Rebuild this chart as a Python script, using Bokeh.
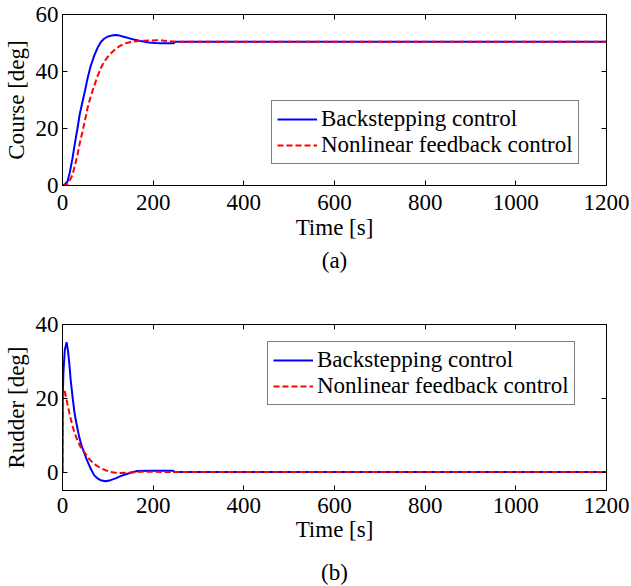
from bokeh.plotting import figure
from bokeh.models import Range1d, LinearAxis, FixedTicker, Legend, LegendItem, Title
from bokeh.layouts import column
from bokeh.embed import file_html
from bokeh.resources import INLINE

FONT = "Liberation Serif"
FS = "23px"

# ---- data ----
x_ticks = [0, 200, 400, 600, 800, 1000, 1200]
course_ticks = [0, 20, 40, 60]
rudder_ticks = [0, 20, 40]

t_course_bs = [0, 5, 11, 16, 22, 27, 33, 38, 44, 50, 55, 62, 70, 77, 84, 91, 99, 108, 117, 126, 135, 146,
               157, 172, 190, 205, 216, 245, 249, 300, 1200]
course_bs = [0, 0.4, 1.4, 4.5, 9.5, 14.5, 20, 25, 29.3, 33.5, 37.4, 41.8, 45.6, 48.2, 50.2, 51.4, 52.2, 52.6,
             52.8, 52.6, 52.2, 51.7, 51.2, 50.7, 50.2, 50.0, 49.9, 49.9, 50.4, 50.4, 50.4]

t_course_nf = [0, 5, 11, 16, 22, 27, 33, 38, 44, 50, 55, 62, 70, 77, 84, 91, 99, 108, 117, 126, 135, 146,
               157, 170, 180, 195, 209, 220, 231, 253, 300, 1200]
course_nf = [0, 0.1, 0.5, 1.8, 3.7, 6.8, 10.7, 14.8, 18.8, 23.2, 27, 31.2, 35, 38.2, 41, 43.2, 45, 46.6,
             47.9, 48.9, 49.7, 50.2, 50.5, 50.7, 50.8, 50.9, 51, 50.9, 50.7, 50.4, 50.4, 50.4]

t_rud_bs = [0, 0.5, 2, 5, 9, 12, 15, 18, 22, 26, 29, 33, 37, 42, 48, 53, 59, 64, 70, 77, 84, 95, 106, 117,
            128, 140, 150, 165, 194, 245, 246, 300, 1200]
rud_bs = [0, 20, 27, 33, 35.2, 33, 29.5, 25, 20.6, 16.5, 14.3, 11.8, 9.4, 7.2, 5.2, 3.5, 1.8, 0.5, -0.9,
          -1.7, -2.2, -2.5, -2.2, -1.7, -1.1, -0.6, -0.2, 0.3, 0.35, 0.35, 0, 0, 0]

t_rud_nf = [0, 1.5, 5, 10, 15, 22, 28, 33, 40, 48, 55, 62, 72, 84, 95, 106, 121, 143, 172, 194, 220, 300, 1200]
rud_nf = [0, 21.5, 21.9, 19, 16.1, 12.5, 10.2, 8.5, 6.8, 5.4, 4.2, 3.1, 2.0, 1.1, 0.5, 0.0, -0.3, -0.2,
          0.1, 0.1, 0, 0, 0]

labels = ["Backstepping control", "Nonlinear feedback control"]


def style_axis(ax, show_labels=True):
    ax.axis_line_color = "black"
    ax.axis_line_width = 1
    ax.major_tick_in = 5
    ax.major_tick_out = 0
    ax.minor_tick_line_color = None
    ax.major_tick_line_color = "black"
    ax.major_label_text_font = FONT
    ax.major_label_text_color = "black"
    ax.axis_label_text_font = FONT
    ax.axis_label_text_font_size = FS
    ax.axis_label_text_font_style = "normal"
    ax.axis_label_text_color = "black"
    if show_labels:
        ax.major_label_text_font_size = FS
    else:
        ax.major_label_text_font_size = "0px"
        ax.major_label_standoff = 0


def make_panel(height, border_top, border_bottom, yr, yticks, ylabel, tb, yb, tn, yn, caption,
               leg_loc, tick_sd, lab_sd, cap_sd, spacer_px):
    p = figure(width=631, height=height, x_range=Range1d(0, 1200), y_range=Range1d(*yr),
               output_backend="svg", toolbar_location=None,
               min_border_left=62, min_border_right=25, min_border_top=border_top,
               min_border_bottom=border_bottom)
    p.background_fill_color = "white"
    p.border_fill_color = "white"
    p.outline_line_color = "black"
    p.outline_line_width = 1
    p.grid.visible = False

    p.xaxis.ticker = FixedTicker(ticks=x_ticks)
    p.yaxis.ticker = FixedTicker(ticks=yticks)
    p.xaxis.axis_label = "Time [s]"
    p.yaxis.axis_label = ylabel
    for ax in p.xaxis + p.yaxis:
        style_axis(ax)
    p.xaxis.major_label_standoff = tick_sd
    p.xaxis.axis_label_standoff = lab_sd
    p.yaxis.major_label_standoff = 4
    p.yaxis.axis_label_standoff = 4

    top_ax = LinearAxis(ticker=FixedTicker(ticks=x_ticks))
    right_ax = LinearAxis(ticker=FixedTicker(ticks=yticks))
    style_axis(top_ax, False)
    style_axis(right_ax, False)
    p.add_layout(top_ax, "above")
    p.add_layout(right_ax, "right")

    r1 = p.line(tb, yb, line_color="#0000FF", line_width=2)
    r2 = p.line(tn, yn, line_color="#FF0000", line_width=2, line_dash="6 3")

    leg = Legend(items=[LegendItem(label=labels[0], renderers=[r1]),
                        LegendItem(label=labels[1], renderers=[r2])],
                 location=leg_loc)
    leg.label_text_font = FONT
    leg.label_text_font_size = FS
    leg.label_text_color = "black"
    leg.border_line_color = "black"
    leg.border_line_width = 1
    leg.background_fill_color = "white"
    leg.background_fill_alpha = 1
    leg.glyph_width = 40
    leg.glyph_height = 20
    leg.label_standoff = 4
    leg.padding = 5
    leg.spacing = 0
    leg.margin = 0
    leg.label_height = 23
    p.add_layout(leg, "center")

    if spacer_px:
        spacer = Title(text=" ", align="center", text_font=FONT, text_font_size=spacer_px,
                       text_font_style="normal", standoff=0)
        p.add_layout(spacer, "below")
    cap = Title(text=caption, align="center", offset=-16, text_font=FONT, text_font_size=FS,
                text_font_style="normal", text_color="black", standoff=cap_sd)
    p.add_layout(cap, "below")
    return p


pa = make_panel(280, 14, 95, (0, 60), course_ticks, "Course [deg]",
                t_course_bs, course_bs, t_course_nf, course_nf, "(a)", (209, 21), 9, 2, 6, None)
pb = make_panel(306, 44, 96, (-5, 40), rudder_ticks, "Rudder [deg]",
                t_rud_bs, rud_bs, t_rud_nf, rud_nf, "(b)", (205, 85), 7, 1, 0, "10px")

layout = column(pa, pb, spacing=0)

open("out.html", "w").write(file_html(layout, INLINE))
